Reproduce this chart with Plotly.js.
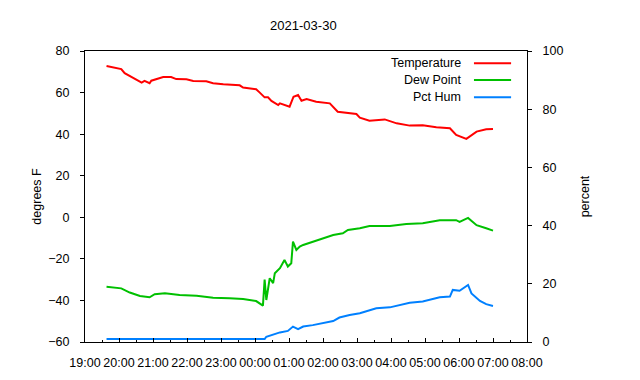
<!DOCTYPE html>
<html>
<head>
<meta charset="utf-8">
<script src="https://cdn.plot.ly/plotly-3.0.1.min.js"></script>
<style>html,body{margin:0;padding:0;background:#fff;}#chart{width:640px;height:380px;}</style>
</head>
<body>
<div id="chart"></div>
<script>
var D0 = "2021-03-29 ";
var D1 = "2021-03-30 ";

var tempTimes = [
  D0+"19:38", D0+"19:48", D0+"20:04", D0+"20:10", D0+"20:19", D0+"20:25", D0+"20:34", D0+"20:40",
  D0+"20:45", D0+"20:54", D0+"20:57", D0+"21:06", D0+"21:18", D0+"21:32", D0+"21:41", D0+"21:59",
  D0+"22:11", D0+"22:34", D0+"22:46", D0+"23:04", D0+"23:33", D0+"23:39", D1+"00:02", D1+"00:08",
  D1+"00:17", D1+"00:23", D1+"00:29", D1+"00:41", D1+"00:44", D1+"01:01", D1+"01:08", D1+"01:16",
  D1+"01:22", D1+"01:31", D1+"01:48", D1+"02:12", D1+"02:26", D1+"02:59", D1+"03:05", D1+"03:22",
  D1+"03:49", D1+"04:10", D1+"04:33", D1+"04:56", D1+"05:20", D1+"05:44", D1+"05:55", D1+"06:13",
  D1+"06:31", D1+"06:48", D1+"07:00"
];
var tempValues = [
  72.8, 72.2, 71.3, 69.3, 68.0, 66.9, 66.0, 64.8,
  65.6, 64.5, 65.7, 66.5, 67.5, 67.5, 66.5, 66.4,
  65.6, 65.4, 64.5, 64.0, 63.5, 62.4, 61.6, 60.1,
  57.7, 57.7, 56.0, 54.0, 54.8, 53.2, 58.0, 58.8,
  56.1, 56.9, 55.6, 54.8, 50.8, 49.7, 47.9, 46.5,
  47.1, 45.2, 44.1, 44.3, 43.3, 42.8, 39.6, 37.7,
  41.2, 42.3, 42.5
];

var dewTimes = [
  D0+"19:38", D0+"20:04", D0+"20:19", D0+"20:37", D0+"20:54", D0+"21:03", D0+"21:21", D0+"21:47",
  D0+"22:17", D0+"22:46", D0+"23:15", D0+"23:39", D1+"00:02", D1+"00:14", D1+"00:17", D1+"00:20",
  D1+"00:26", D1+"00:32", D1+"00:35", D1+"00:44", D1+"00:52", D1+"00:58", D1+"01:04", D1+"01:07",
  D1+"01:13", D1+"01:19", D1+"01:25", D1+"01:42", D1+"02:00", D1+"02:18", D1+"02:35", D1+"02:44",
  D1+"03:05", D1+"03:22", D1+"03:58", D1+"04:27", D1+"04:56", D1+"05:26", D1+"05:55", D1+"06:01",
  D1+"06:16", D1+"06:31", D1+"06:48", D1+"07:00"
];
var dewValues = [
  -33.4, -34.2, -36.2, -37.9, -38.5, -37.0, -36.6, -37.4,
  -37.7, -38.7, -39.0, -39.3, -40.3, -42.5, -30.0, -39.8,
  -29.3, -31.7, -26.9, -24.5, -20.5, -23.7, -22.1, -11.7,
  -15.7, -14.1, -13.3, -11.7, -10.1, -8.5, -7.7, -6.1,
  -5.3, -4.2, -4.2, -3.2, -2.9, -1.4, -1.4, -2.2,
  -0.3, -3.8, -5.3, -6.4
];

var humTimes = [
  D0+"19:38", D1+"00:17", D1+"00:20", D1+"00:32", D1+"00:44", D1+"00:58", D1+"01:07", D1+"01:16",
  D1+"01:25", D1+"01:42", D1+"02:00", D1+"02:18", D1+"02:29", D1+"02:47", D1+"03:05", D1+"03:22",
  D1+"03:34", D1+"03:58", D1+"04:15", D1+"04:33", D1+"04:56", D1+"05:08", D1+"05:26", D1+"05:44",
  D1+"05:49", D1+"06:01", D1+"06:16", D1+"06:22", D1+"06:37", D1+"06:48", D1+"07:00"
];
var humValues = [
  1.0, 1.0, 1.8, 2.6, 3.3, 3.8, 5.3, 4.4,
  5.3, 5.8, 6.4, 7.2, 8.4, 9.3, 9.9, 11.0,
  11.6, 11.9, 12.7, 13.5, 13.9, 14.4, 15.4, 15.6,
  17.9, 17.6, 19.6, 16.7, 14.1, 13.0, 12.4
];

var seriesNames = ["Temperature", "Dew Point", "Pct Hum"];
var seriesColors = ["#ff0000", "#00c000", "#0080ff"];
var chartTitle = "2021-03-30";
var leftTitle = "degrees F";
var rightTitle = "percent";

var FONT = "Liberation Sans, Arial, Helvetica, sans-serif";

var traces = [
  {x: tempTimes, y: tempValues, name: seriesNames[0], type: "scatter", mode: "lines",
   line: {color: seriesColors[0], width: 2}, yaxis: "y"},
  {x: dewTimes, y: dewValues, name: seriesNames[1], type: "scatter", mode: "lines",
   line: {color: seriesColors[1], width: 2}, yaxis: "y"},
  {x: humTimes, y: humValues, name: seriesNames[2], type: "scatter", mode: "lines",
   line: {color: seriesColors[2], width: 2}, yaxis: "y2"}
];

var legendY = [0.958, 0.900, 0.841];
var annotations = [];
var shapes = [];
for (var i = 0; i < seriesNames.length; i++) {
  annotations.push({
    text: seriesNames[i], xref: "paper", yref: "paper", x: 0.855, y: legendY[i],
    xanchor: "right", yanchor: "middle", showarrow: false,
    font: {family: FONT, size: 12.5, color: "#000"}
  });
  shapes.push({
    type: "line", xref: "paper", yref: "paper", x0: 0.880, x1: 0.964, y0: legendY[i], y1: legendY[i],
    line: {color: seriesColors[i], width: 2}
  });
}

var layout = {
  width: 640, height: 380,
  margin: {l: 85, r: 113, t: 51, b: 38, pad: 0},
  paper_bgcolor: "#fff", plot_bgcolor: "#fff",
  showlegend: false,
  font: {family: FONT, size: 12, color: "#000"},
  title: {text: chartTitle, font: {family: FONT, size: 13, color: "#000"},
          xref: "container", yref: "container", x: 0.474, y: 0.934, xanchor: "center", yanchor: "middle"},
  xaxis: {
    type: "date",
    range: [D0+"19:00", D1+"08:00"],
    dtick: 3600000, tick0: D0+"19:00",
    tickformat: "%H:%M",
    showgrid: false, zeroline: false,
    showline: true, linecolor: "#000", linewidth: 1, mirror: true,
    ticks: "inside", ticklen: 4, tickcolor: "#000", tickwidth: 1,
    minor: {dtick: 1800000, ticks: "inside", ticklen: 2, tickcolor: "#000", showgrid: false},
    ticklabelstandoff: 9,
    tickfont: {family: FONT, size: 12.5, color: "#000"}
  },
  yaxis: {
    range: [-60, 80], dtick: 20,
    showgrid: false, zeroline: false,
    showline: true, linecolor: "#000", linewidth: 1,
    ticks: "outside", ticklen: 4, tickcolor: "#000",
    ticklabelstandoff: 8,
    tickfont: {family: FONT, size: 12.5, color: "#000"},
    title: {text: leftTitle, font: {family: FONT, size: 12.5, color: "#000"}, standoff: 3}
  },
  yaxis2: {
    range: [0, 100], dtick: 20, overlaying: "y", side: "right",
    showgrid: false, zeroline: false,
    showline: true, linecolor: "#000", linewidth: 1,
    ticks: "outside", ticklen: 4, tickcolor: "#000",
    ticklabelstandoff: 8,
    tickfont: {family: FONT, size: 12.5, color: "#000"},
    title: {text: rightTitle, font: {family: FONT, size: 12.5, color: "#000"}, standoff: 17}
  },
  annotations: annotations,
  shapes: shapes
};

Plotly.newPlot("chart", traces, layout, {staticPlot: true, displayModeBar: false});
</script>
</body>
</html>
